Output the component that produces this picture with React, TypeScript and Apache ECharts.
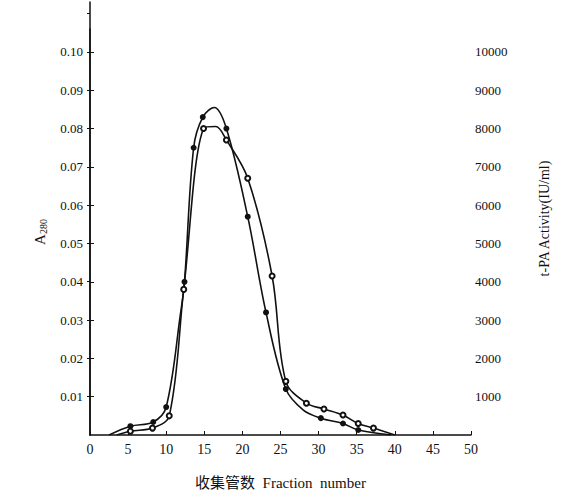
import React, { useEffect, useRef } from "react";
import * as echarts from "echarts";

const xTicks = [0, 5, 10, 15, 20, 25, 30, 35, 40, 45, 50];
// A280 (filled dots); entries with hidden=true are curve points without a marker
const a280X = [2.5, 5.3, 8.3, 10, 11.9, 12.4, 13.6, 14.8, 16.3, 17.9, 20.7, 23.1, 25.7, 28, 30.3, 33.2, 35.2, 39.5];
const a280Y = [0, 0.0023, 0.0034, 0.0073, 0.032, 0.04, 0.075, 0.083, 0.0855, 0.08, 0.057, 0.032, 0.012, 0.0065, 0.0044, 0.003, 0.0013, 0];
const a280Hidden = [true, false, false, false, true, false, false, false, true, false, false, false, false, true, false, false, false, true];
// t-PA activity IU/ml (open circles)
const actX = [3.5, 5.3, 8.2, 10.4, 12.3, 14.9, 16.5, 17.9, 20.7, 23.9, 25.7, 28.4, 30.7, 33.2, 35.2, 37.2, 40];
const actY = [0, 100, 180, 500, 3800, 8000, 8050, 7700, 6700, 4150, 1400, 830, 680, 520, 300, 180, 0];
const actHidden = [true, false, false, false, false, false, true, false, false, false, false, false, false, false, false, false, true];
const rightLabels = [1000, 2000, 3000, 4000, 5000, 6000, 7000, 8000, 9000, 10000];

const serif = "'Liberation Serif', 'DejaVu Serif', 'Noto Sans CJK SC', serif";

export default function App() {
  const ref = useRef<HTMLDivElement>(null);
  useEffect(() => {
    if (!ref.current) return;
    const chart = echarts.init(ref.current, null, { renderer: "svg" });
    const axisLine = { show: true, lineStyle: { color: "#111", width: 1.5 } };
    const a280Data = a280X.map((x, i) => ({
      value: [x, a280Y[i]],
      symbol: a280Hidden[i] ? "none" : "circle",
    }));
    const actData = actX.map((x, i) => ({
      value: [x, actY[i]],
      symbol: actHidden[i] ? "none" : "emptyCircle",
    }));
    chart.setOption({
      animation: false,
      backgroundColor: "#fff",
      textStyle: { fontFamily: serif },
      grid: [
        { left: 90, right: 91, top: 29, bottom: 62 },
        { left: 90, right: 91, top: 2, bottom: 62 },
      ],
      xAxis: [
        {
          type: "value",
          gridIndex: 0,
          min: 0,
          max: 50,
          interval: 5,
          axisLine,
          axisTick: { show: true, inside: true, length: 4, lineStyle: { color: "#111" } },
          axisLabel: {
            color: "#111",
            fontSize: 14,
            fontFamily: serif,
            margin: 7,
            formatter: (v: number) => (xTicks.includes(v) ? String(v) : ""),
          },
          splitLine: { show: false },
          name: "收集管数  Fraction  number",
          nameLocation: "middle",
          nameGap: 40,
          nameTextStyle: { color: "#111", fontSize: 15, fontFamily: serif },
        },
        { type: "value", gridIndex: 1, min: 0, max: 50, show: false },
      ],
      yAxis: [
        {
          type: "value",
          gridIndex: 0,
          min: 0,
          max: 0.106,
          interval: 0.01,
          axisLine,
          axisTick: { show: true, inside: true, length: 4, lineStyle: { color: "#111" } },
          axisLabel: {
            color: "#111",
            fontSize: 13,
            fontFamily: serif,
            margin: 7,
            showMinLabel: false,
            showMaxLabel: false,
            formatter: (v: number) => v.toFixed(2),
          },
          splitLine: { show: false },
          name: "{a|A}{s|280}",
          nameLocation: "middle",
          nameRotate: 90,
          nameGap: 42,
          nameTextStyle: {
            rich: {
              a: { fontSize: 15, color: "#111", fontFamily: serif },
              s: { fontSize: 10, color: "#111", fontFamily: serif, padding: [6, 0, 0, 0] },
            },
          },
        },
        {
          type: "value",
          gridIndex: 1,
          position: "right",
          min: 0,
          max: 11300,
          interval: 1000,
          axisLine,
          axisTick: { show: true, inside: true, length: 3, lineStyle: { color: "#111" } },
          axisLabel: {
            color: "#111",
            fontSize: 13,
            fontFamily: serif,
            margin: 4,
            showMinLabel: false,
            showMaxLabel: false,
            formatter: (v: number) => (rightLabels.includes(v) ? String(v) : ""),
          },
          splitLine: { show: false },
          name: "t-PA Activity(IU/ml)",
          nameLocation: "middle",
          nameRotate: 90,
          nameGap: 66,
          nameTextStyle: { color: "#111", fontSize: 14, fontFamily: serif },
        },
      ],
      series: [
        {
          type: "line",
          xAxisIndex: 0,
          yAxisIndex: 0,
          data: a280Data,
          smooth: 0.35,
          symbolSize: 6,
          lineStyle: { color: "#111", width: 1.6 },
          itemStyle: { color: "#111" },
        },
        {
          type: "line",
          xAxisIndex: 1,
          yAxisIndex: 1,
          data: actData,
          smooth: 0.35,
          symbolSize: 5,
          lineStyle: { color: "#111", width: 1.6 },
          itemStyle: { color: "#111", borderColor: "#111", borderWidth: 1.2 },
        },
      ],
    });
    return () => chart.dispose();
  }, []);
  return (
    <div
      ref={ref}
      style={{ position: "fixed", left: 0, top: 0, width: 562, height: 497, background: "#fff" }}
    />
  );
}
